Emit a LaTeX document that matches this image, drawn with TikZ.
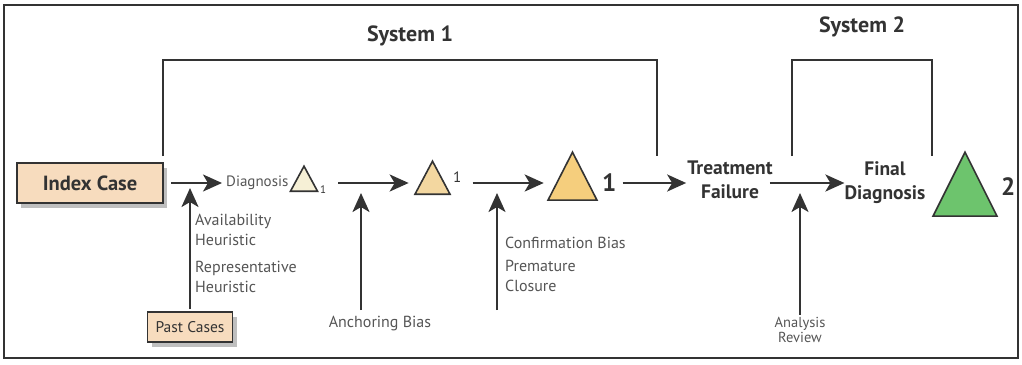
\documentclass[tikz,border=0pt]{standalone}
\usepackage{fontspec}
\setmainfont{PT Sans}
\usetikzlibrary{arrows.meta,shapes.geometric,shadows}

\definecolor{peach}{HTML}{F7DCBE}
\definecolor{edge}{HTML}{333333}
\definecolor{labgray}{HTML}{555555}
\definecolor{triA}{HTML}{F6F0D6}
\definecolor{triB}{HTML}{F3D7A0}
\definecolor{triC}{HTML}{F5CE7D}
\definecolor{triD}{HTML}{6DC46D}

\tikzset{
  casebox/.style={draw=edge, line width=2pt, fill=peach, inner sep=0pt,
    drop shadow={opacity=0.5, shadow xshift=4pt, shadow yshift=-5pt}},
  tri/.style={isosceles triangle, isosceles triangle stretches, shape border rotate=90,
    draw=edge, line width=1.6pt, inner sep=0pt, anchor=south},
  arr/.style={draw=edge, line width=2.4pt, -{Stealth[length=19pt,width=17pt,inset=5pt]}},
  bracket/.style={draw=edge, line width=2.6pt},
  biaslab/.style={text=labgray, font=\fontsize{16}{20}\selectfont, align=left, inner sep=0pt},
  steplab/.style={text=edge, font=\fontsize{19.5}{24}\selectfont\bfseries, align=center, inner sep=0pt},
  syslab/.style={text=edge, font=\fontsize{22}{24}\selectfont\bfseries}
}

\begin{document}
\begin{tikzpicture}[x=1pt, y=-1pt]
  \useasboundingbox (0,0) rectangle (1022,364);
  \draw[edge, line width=1.2pt] (4,5) rectangle (1018,358);

  % Brackets
  \draw[bracket] (163,156) |- (657,60) -- (657,156);
  \draw[bracket] (792,156) |- (932,60) -- (932,156);
  \node[syslab] (sys1) at (410,36) {System 1};
  \node[syslab] (sys2) at (862,27) {System 2};

  % Main row
  \node[casebox, minimum width=146, minimum height=40, font=\fontsize{20.5}{24}\selectfont\bfseries, text=edge] (index) at (90,183) {Index Case};
  \node[text=labgray, anchor=west, inner sep=0pt, font=\fontsize{15}{18}\selectfont] (diag) at (226,183) {Diagnosis};
  \node[tri, fill=triA, minimum width=27, minimum height=25] (t1) at (304,192) {};
  \node[anchor=west, inner sep=0pt, text=edge, font=\fontsize{11}{12}\selectfont] (s1) at (320,190) {1};
  \node[tri, fill=triB, minimum width=35, minimum height=33] (t2) at (432.5,195) {};
  \node[anchor=west, inner sep=0pt, text=edge, font=\fontsize{15}{16}\selectfont] (s2) at (453,177) {1};
  \node[tri, fill=triC, minimum width=49, minimum height=48] (t3) at (572.5,201) {};
  \node[anchor=west, inner sep=0pt, text=edge, font=\fontsize{25}{26}\selectfont\bfseries] (s3) at (602,183) {1};
  \node[steplab] (fail) at (730,180) {Treatment\\Failure};
  \node[steplab] (final) at (885,183) {Final\\Diagnosis};
  \node[tri, fill=triD, minimum width=64, minimum height=64] (t4) at (965,217) {};
  \node[anchor=west, inner sep=0pt, text=edge, font=\fontsize{25}{26}\selectfont\bfseries] (s4) at (1001,187) {2};

  % Row arrows
  \draw[arr, shorten <=7pt, shorten >=4pt] (index.east) -- (diag.west);
  \draw[arr, shorten <=12pt, shorten >=5pt] (s1.east |- index) -- (t2.left corner |- index);
  \draw[arr, shorten <=11pt, shorten >=3pt] (s2.east |- index) -- (t3.left corner |- index);
  \draw[arr, shorten <=6pt, shorten >=1pt] (s3.east |- index) -- (fail.west |- index);
  \draw[arr, shorten <=-3pt] (fail.east |- index) -- (final.west |- index);

  % Bias inputs
  \node[casebox, minimum width=85, minimum height=30, line width=1.6pt, font=\fontsize{15.5}{18}\selectfont, text=edge] (past) at (190,327) {Past Cases};
  \node[biaslab, anchor=west] (avail) at (195,230) {Availability\\Heuristic};
  \node[biaslab, anchor=west] (repr) at (195,277) {Representative\\Heuristic};
  \node[biaslab] (anchor) at (380,324) {Anchoring Bias};
  \node[biaslab, anchor=west] (confirm) at (505,243) {Confirmation Bias};
  \node[biaslab, anchor=west] (closure) at (505,276) {Premature\\Closure};
  \node[biaslab, align=center, font=\fontsize{14.5}{15.5}\selectfont] (review) at (800,330) {Analysis\\Review};
  \coordinate (anchorfoot) at (361,310);
  \coordinate (confirmfoot) at (497,310);

  \draw[arr, shorten <=2pt, shorten >=5pt] (past.north) -- (past.north |- index);
  \draw[arr, shorten >=10pt] (anchorfoot) -- (anchorfoot |- index);
  \draw[arr, shorten >=10pt] (confirmfoot) -- (confirmfoot |- index);
  \draw[arr, shorten <=2pt, shorten >=10pt] (review.north) -- (review.north |- index);
\end{tikzpicture}
\end{document}
